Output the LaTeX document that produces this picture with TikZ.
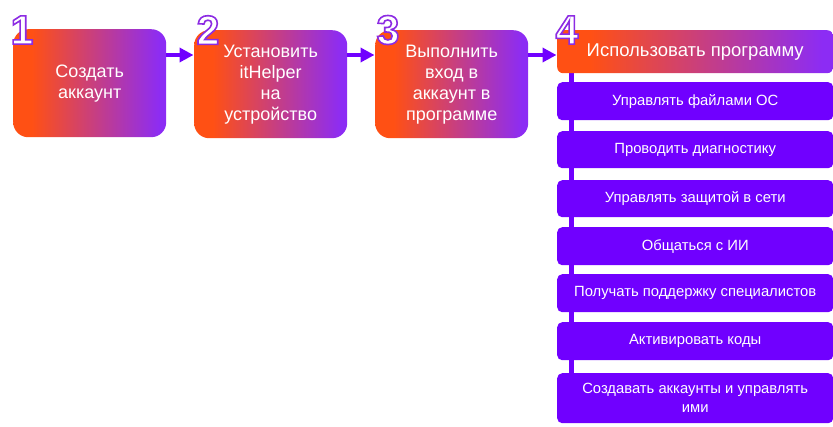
\documentclass[tikz,border=0pt]{standalone}
\usepackage{fontspec}
\setmainfont{Liberation Sans}
\usetikzlibrary{arrows.meta,backgrounds}
\definecolor{stepOrange}{HTML}{FF5014}
\definecolor{stepPurple}{HTML}{8C2CF4}
\definecolor{taskViolet}{HTML}{7000FF}
\pgfdeclarehorizontalshading{stepshade}{100bp}{color(0bp)=(stepOrange); color(31bp)=(stepOrange); color(73bp)=(stepPurple); color(100bp)=(stepPurple)}
% outlined digit: white fill, violet stroke
\newcommand{\outnum}[1]{\special{pdf:literal direct 2 Tr 1.6 w 0.55 0.17 0.89 RG}#1\special{pdf:literal direct 0 Tr}}
\begin{document}
\begin{tikzpicture}[x=1pt,y=-1pt,
	stepbox/.style={anchor=north west,shading=stepshade,rounded corners=15pt,text=white,align=center,inner sep=0pt,font=\fontsize{18}{21}\selectfont,minimum width=153pt,minimum height=108pt},
	taskbox/.style={anchor=north west,fill=taskViolet,rounded corners=5pt,text=white,align=center,inner sep=0pt,font=\fontsize{14.8}{19}\selectfont,minimum width=276pt},
	stepnum/.style={text=white,inner sep=0pt,font=\bfseries\fontsize{41}{41}\selectfont},
	arr/.style={-{Triangle[length=14pt,width=14pt]},line width=4pt,taskViolet,shorten >=0.5pt}]
	\useasboundingbox (0,0) rectangle (833,426);
	\node[stepbox] (s1) at (13,29) {Создать\\аккаунт};
	\node[stepbox] (s2) at (194,30) {Установить\\itHelper\\на\\устройство};
	\node[stepbox] (s3) at (375,30) {Выполнить\\вход в\\аккаунт в\\программе};
	\node[stepbox,rounded corners=6pt,minimum width=276pt,minimum height=43pt,font=\fontsize{18.5}{21}\selectfont] (s4) at (557,30) {Использовать программу};
	% what the program does
	\foreach \y/\h/\t [count=\i] in {82/38/{Управлять файлами ОС},131/37/{Проводить диагностику},180/37/{Управлять защитой в сети},227/38/{Общаться с ИИ},274/38/{Получать поддержку специалистов},322/38/{Активировать коды},373/50/{Создавать аккаунты и управлять\\ими}}
		\node[taskbox,minimum height=\h pt] (u\i) at (557,\y) {\t};
	\begin{scope}[on background layer]
		\draw[taskViolet,line width=5pt] ([xshift=14pt]s4.south west) -- ([xshift=14pt]u7.north west);
	\end{scope}
	\draw[arr] ([yshift=-26pt]s1.north east) -- ([yshift=-25pt]s2.north west);
	\draw[arr] ([yshift=-25pt]s2.north east) -- ([yshift=-25pt]s3.north west);
	\draw[arr] ([yshift=-25pt]s3.north east) -- ([yshift=-25pt]s4.north west);
	\node[stepnum] (n1) at (22,30) {\outnum{1}};
	\node[stepnum] (n2) at (208,30) {\outnum{2}};
	\node[stepnum] (n3) at (388,30) {\outnum{3}};
	\node[stepnum] (n4) at (567,30) {\outnum{4}};
\end{tikzpicture}
\end{document}
